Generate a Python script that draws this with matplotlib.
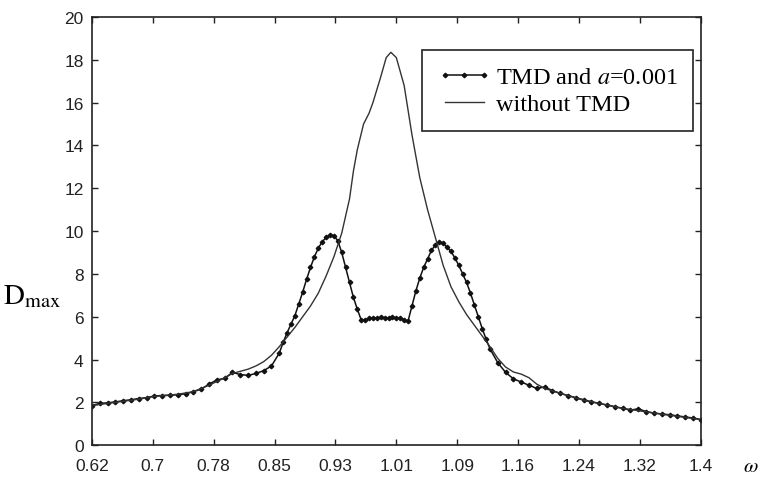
import matplotlib
matplotlib.use("Agg")
import matplotlib.pyplot as plt
import numpy as np

plt.rcParams['font.family'] = ['Liberation Sans', 'DejaVu Sans']
plt.rcParams['mathtext.fontset'] = 'stix'

# ---------------------------------------------------------------
# Data (omega vs D_max)
# ---------------------------------------------------------------
w_tmd = [0.62, 0.63, 0.64, 0.65, 0.66, 0.67, 0.68, 0.69, 0.70, 0.71,
         0.72, 0.73, 0.74, 0.75, 0.76, 0.77, 0.78, 0.79, 0.80, 0.81,
         0.82, 0.83, 0.84, 0.85, 0.86, 0.865, 0.87, 0.875, 0.88, 0.885,
         0.89, 0.895, 0.90, 0.905, 0.91, 0.915, 0.92, 0.925, 0.93, 0.935,
         0.94, 0.945, 0.95, 0.955, 0.96, 0.965, 0.97, 0.975, 0.98, 0.985,
         0.99, 0.995, 1.00, 1.005, 1.01, 1.015, 1.02, 1.025, 1.03, 1.035,
         1.04, 1.045, 1.05, 1.055, 1.06, 1.065, 1.07, 1.075, 1.08, 1.085,
         1.09, 1.095, 1.10, 1.105, 1.11, 1.115, 1.12, 1.125, 1.13, 1.14,
         1.15, 1.16, 1.17, 1.18, 1.19, 1.20, 1.21, 1.22, 1.23, 1.24,
         1.25, 1.26, 1.27, 1.28, 1.29, 1.30, 1.31, 1.32, 1.33, 1.34,
         1.35, 1.36, 1.37, 1.38, 1.39, 1.40]
d_tmd = [1.85, 1.95, 1.98, 2.02, 2.08, 2.12, 2.18, 2.22, 2.30, 2.32,
         2.33, 2.36, 2.40, 2.50, 2.62, 2.85, 3.05, 3.12, 3.40, 3.30,
         3.26, 3.35, 3.48, 3.70, 4.30, 4.80, 5.25, 5.65, 6.05, 6.60,
         7.15, 7.75, 8.30, 8.80, 9.20, 9.50, 9.70, 9.82, 9.78, 9.55,
         9.00, 8.30, 7.60, 6.90, 6.35, 5.85, 5.85, 5.92, 5.95, 5.95,
         5.97, 5.95, 5.95, 5.97, 5.95, 5.92, 5.85, 5.80, 6.50, 7.20,
         7.80, 8.30, 8.70, 9.10, 9.35, 9.48, 9.42, 9.25, 9.05, 8.75,
         8.40, 8.00, 7.60, 7.10, 6.55, 6.00, 5.45, 4.95, 4.50, 3.85,
         3.40, 3.10, 2.95, 2.80, 2.65, 2.72, 2.55, 2.42, 2.32, 2.22,
         2.12, 2.03, 1.95, 1.88, 1.80, 1.72, 1.64, 1.70, 1.57, 1.50,
         1.46, 1.42, 1.37, 1.32, 1.27, 1.20]

w_free = [0.62, 0.65, 0.68, 0.70, 0.73, 0.75, 0.77, 0.79, 0.80, 0.81,
          0.82, 0.83, 0.84, 0.85, 0.86, 0.87, 0.88, 0.89, 0.90, 0.91,
          0.92, 0.93, 0.94, 0.95, 0.955, 0.96, 0.968, 0.975, 0.98, 0.99,
          0.997, 1.003, 1.01, 1.02, 1.03, 1.04, 1.05, 1.06, 1.07, 1.08,
          1.09, 1.10, 1.11, 1.12, 1.13, 1.14, 1.15, 1.16, 1.17, 1.18,
          1.19, 1.20, 1.22, 1.25, 1.30, 1.35, 1.40]
d_free = [1.85, 2.00, 2.15, 2.28, 2.38, 2.50, 2.80, 3.15, 3.35, 3.45,
          3.55, 3.70, 3.90, 4.20, 4.60, 5.05, 5.50, 6.00, 6.50, 7.10,
          7.90, 8.80, 9.90, 11.50, 12.80, 13.80, 15.00, 15.50, 16.00, 17.20,
          18.10, 18.35, 18.10, 16.80, 14.50, 12.50, 11.00, 9.70, 8.40, 7.40,
          6.70, 6.10, 5.60, 5.10, 4.60, 4.05, 3.65, 3.42, 3.32, 3.15,
          2.85, 2.65, 2.42, 2.10, 1.72, 1.45, 1.20]

x_ticks = np.linspace(0.62, 1.40, 11)
x_ticklabels = ['0.62', '0.7', '0.78', '0.85', '0.93', '1.01', '1.09',
                '1.16', '1.24', '1.32', '1.4']
y_ticks = [0, 2, 4, 6, 8, 10, 12, 14, 16, 18, 20]

# ---------------------------------------------------------------
# Plot
# ---------------------------------------------------------------
fig = plt.figure(figsize=(7.6, 4.85), dpi=100)
ax = fig.add_axes([0.121, 0.080, 0.801, 0.883])

ax.plot(w_tmd, d_tmd, '-', color='#111111', lw=1.1, marker='D', ms=2.3,
        label=r'TMD and $\mathit{a}$=0.001')
ax.plot(w_free, d_free, '-', color='#333333', lw=1.0, label='without TMD')

ax.set_xlim(0.62, 1.40)
ax.set_ylim(0, 20)
ax.set_xticks(x_ticks)
ax.set_xticklabels(x_ticklabels)
ax.set_yticks(y_ticks)
ax.tick_params(direction='in', top=True, right=True, length=4,
               labelsize=12.5, width=1, colors='#222222')
ax.tick_params(axis='x', pad=9)
ax.tick_params(axis='y', pad=6)
for s in ax.spines.values():
    s.set_linewidth(1.2)
    s.set_color('#222222')

leg = ax.legend(loc='upper right', bbox_to_anchor=(0.996, 0.933),
                prop={'family': 'Liberation Serif', 'size': 17.5},
                numpoints=3, handlelength=2.2, handletextpad=0.2,
                fancybox=False, framealpha=1, edgecolor='#222222',
                borderpad=0.65, labelspacing=0.2, borderaxespad=0.2)
leg.get_frame().set_linewidth(1.2)

fig.text(0.004, 0.372, r'$\mathrm{D}_{\mathrm{max}}$', fontsize=21)
fig.text(0.978, 0.026, r'$\omega$', fontsize=15)

fig.savefig('out.png', dpi=100)
